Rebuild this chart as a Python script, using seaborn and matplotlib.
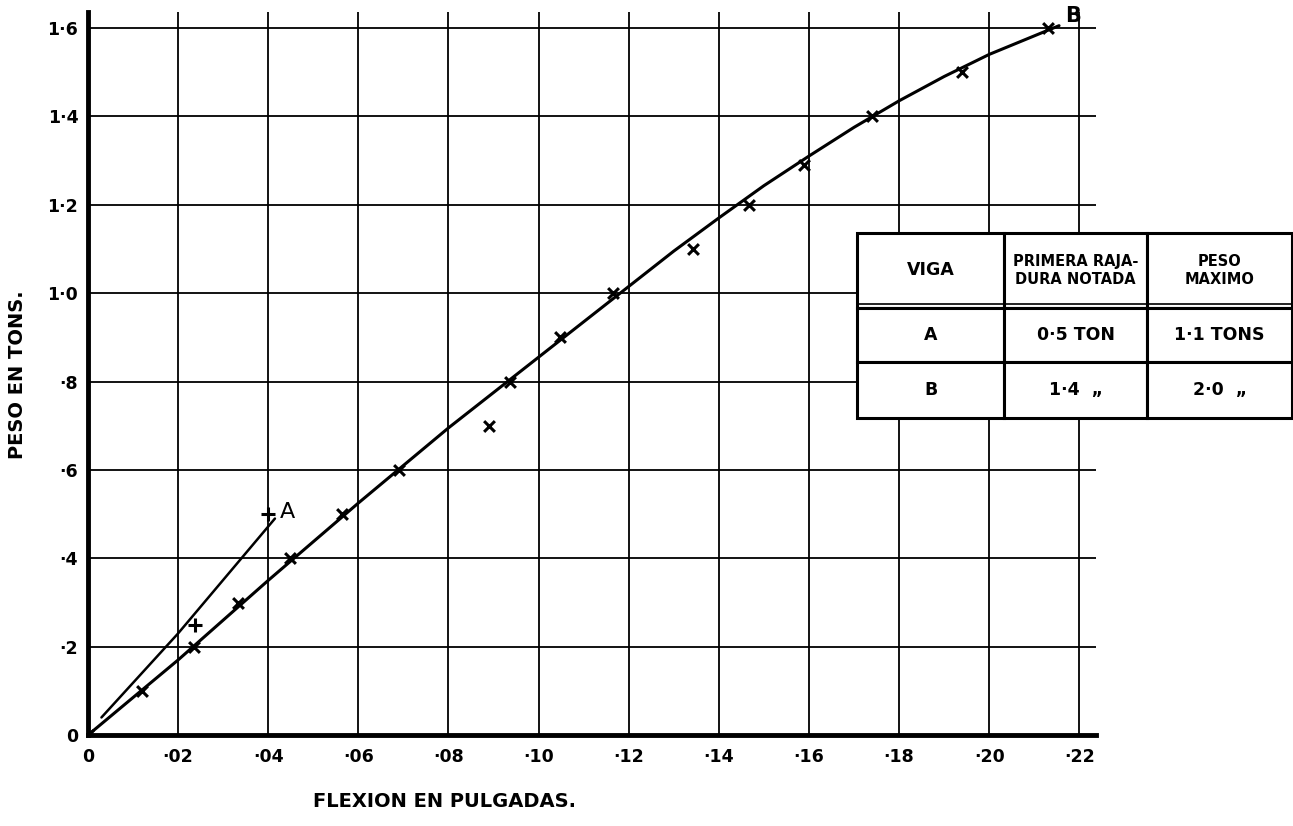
import matplotlib
matplotlib.use('Agg')
import matplotlib.pyplot as plt
import seaborn as sns
import pandas as pd

# Datos
# ------------------------
# viga B: puntos medidos (flexion en pulgadas, peso en tons)
flex_b = [0.0, 0.012, 0.0236, 0.0334, 0.0449, 0.0563, 0.069, 0.089, 0.0937, 0.1047,
          0.1165, 0.1342, 0.1468, 0.159, 0.174, 0.194, 0.213]
peso_b = [0.0, 0.10, 0.20, 0.30, 0.40, 0.50, 0.60, 0.70, 0.80, 0.90,
          1.00, 1.10, 1.20, 1.29, 1.40, 1.50, 1.60]
# viga A: puntos medidos
flex_a = [0.0238, 0.040]
peso_a = [0.25, 0.50]

# curvas trazadas a mano sobre los puntos
curva_b_x = [0.0, 0.02, 0.04, 0.06, 0.08, 0.10, 0.12, 0.13, 0.14, 0.15, 0.16, 0.17,
             0.18, 0.19, 0.20, 0.2155]
curva_b_y = [0.0, 0.17, 0.35, 0.525, 0.695, 0.855, 1.015, 1.095, 1.17, 1.243, 1.31, 1.375,
             1.435, 1.49, 1.54, 1.605]
curva_a_x = [0.003, 0.02, 0.0415]
curva_a_y = [0.04, 0.23, 0.49]

# ejes
x_ticks = [0.0, 0.02, 0.04, 0.06, 0.08, 0.10, 0.12, 0.14, 0.16, 0.18, 0.20, 0.22]
x_labels = ['0', '·02', '·04', '·06', '·08', '·10', '·12', '·14', '·16', '·18', '·20', '·22']
y_ticks = [0.0, 0.2, 0.4, 0.6, 0.8, 1.0, 1.2, 1.4, 1.6]
y_labels = ['0', '·2', '·4', '·6', '·8', '1·0', '1·2', '1·4', '1·6']

# tabla
tabla_cols = ['VIGA', 'PRIMERA RAJA-\nDURA NOTADA', 'PESO\nMAXIMO']
tabla_filas = [['A', '0·5 TON', '1·1 TONS'],
               ['B', '1·4  „', '2·0  „']]

sns.set_style('white')
plt.rcParams['font.family'] = ['DejaVu Sans']
plt.rcParams['font.weight'] = 'bold'
plt.rcParams['text.color'] = 'black'
plt.rcParams['xtick.color'] = 'black'
plt.rcParams['ytick.color'] = 'black'
plt.rcParams['axes.labelcolor'] = 'black'

fig = plt.figure(figsize=(12.93, 8.26), dpi=100)
ax = fig.add_axes([0.068, 0.110, 0.780, 0.8755])

df_b = pd.DataFrame({'x': curva_b_x, 'y': curva_b_y})
df_a = pd.DataFrame({'x': curva_a_x, 'y': curva_a_y})
sns.lineplot(data=df_b, x='x', y='y', ax=ax, color='black', lw=2.2, sort=False, zorder=3)
sns.lineplot(data=df_a, x='x', y='y', ax=ax, color='black', lw=1.8, sort=False, zorder=3)

pts_b = pd.DataFrame({'x': flex_b, 'y': peso_b})
pts_a = pd.DataFrame({'x': flex_a, 'y': peso_a})
sns.scatterplot(data=pts_b, x='x', y='y', ax=ax, marker='x', s=60, color='black',
                linewidth=2.2, zorder=4)
sns.scatterplot(data=pts_a, x='x', y='y', ax=ax, marker='+', s=90, color='black',
                linewidth=2.2, zorder=4)

ax.text(0.0425, 0.505, 'A', fontsize=16, fontweight='normal', va='center', ha='left')
ax.text(0.2185, 1.627, 'B', fontsize=15, fontweight='bold', va='center', ha='center',
        clip_on=False)

ax.set_xlim(0, 0.2238)
ax.set_ylim(0, 1.636)
ax.set_xticks(x_ticks)
ax.set_xticklabels(x_labels, fontsize=12.5, fontweight='bold')
ax.set_yticks(y_ticks)
ax.set_yticklabels(y_labels, fontsize=12.5, fontweight='bold')
ax.tick_params(axis='both', length=0)
ax.tick_params(axis='x', pad=9)
ax.tick_params(axis='y', pad=7)
ax.grid(True, color='black', lw=1.3)
ax.set_axisbelow(True)

for s in ['top', 'right']:
    ax.spines[s].set_visible(False)
for s in ['left', 'bottom']:
    ax.spines[s].set_linewidth(3.5)
    ax.spines[s].set_color('black')

ax.set_xlabel('FLEXION EN PULGADAS.', fontsize=14, fontweight='bold')
ax.set_ylabel('PESO EN TONS.', fontsize=14, fontweight='bold')
ax.xaxis.set_label_coords(0.354, -0.079)
ax.yaxis.set_label_coords(-0.060, 0.498)

# tabla de resultados
tab = ax.table(cellText=tabla_filas, colLabels=tabla_cols, cellLoc='center',
               bbox=[0.763, 0.4385, 0.431, 0.256])
tab.auto_set_font_size(False)
tab.set_zorder(6)
alturas = [75, 54, 56]
anchos = [147, 143, 145]
for (r, c), cell in tab.get_celld().items():
    cell.set_linewidth(2.2)
    cell.set_edgecolor('black')
    cell.set_facecolor('white')
    cell.set_height(alturas[r])
    cell.set_width(anchos[c])
    txt = cell.get_text()
    txt.set_fontweight('bold')
    txt.set_color('black')
    if r == 0 and c > 0:
        txt.set_fontsize(10.5)
    else:
        txt.set_fontsize(12.5)

# doble linea bajo la cabecera
y_cab = 0.4385 + 0.256 * (110 / 185)
ax.plot([0.763, 0.763 + 0.431], [y_cab + 0.006, y_cab + 0.006], transform=ax.transAxes,
        color='black', lw=1.2, clip_on=False, zorder=7)

fig.savefig('out.png', dpi=100, facecolor='white')
